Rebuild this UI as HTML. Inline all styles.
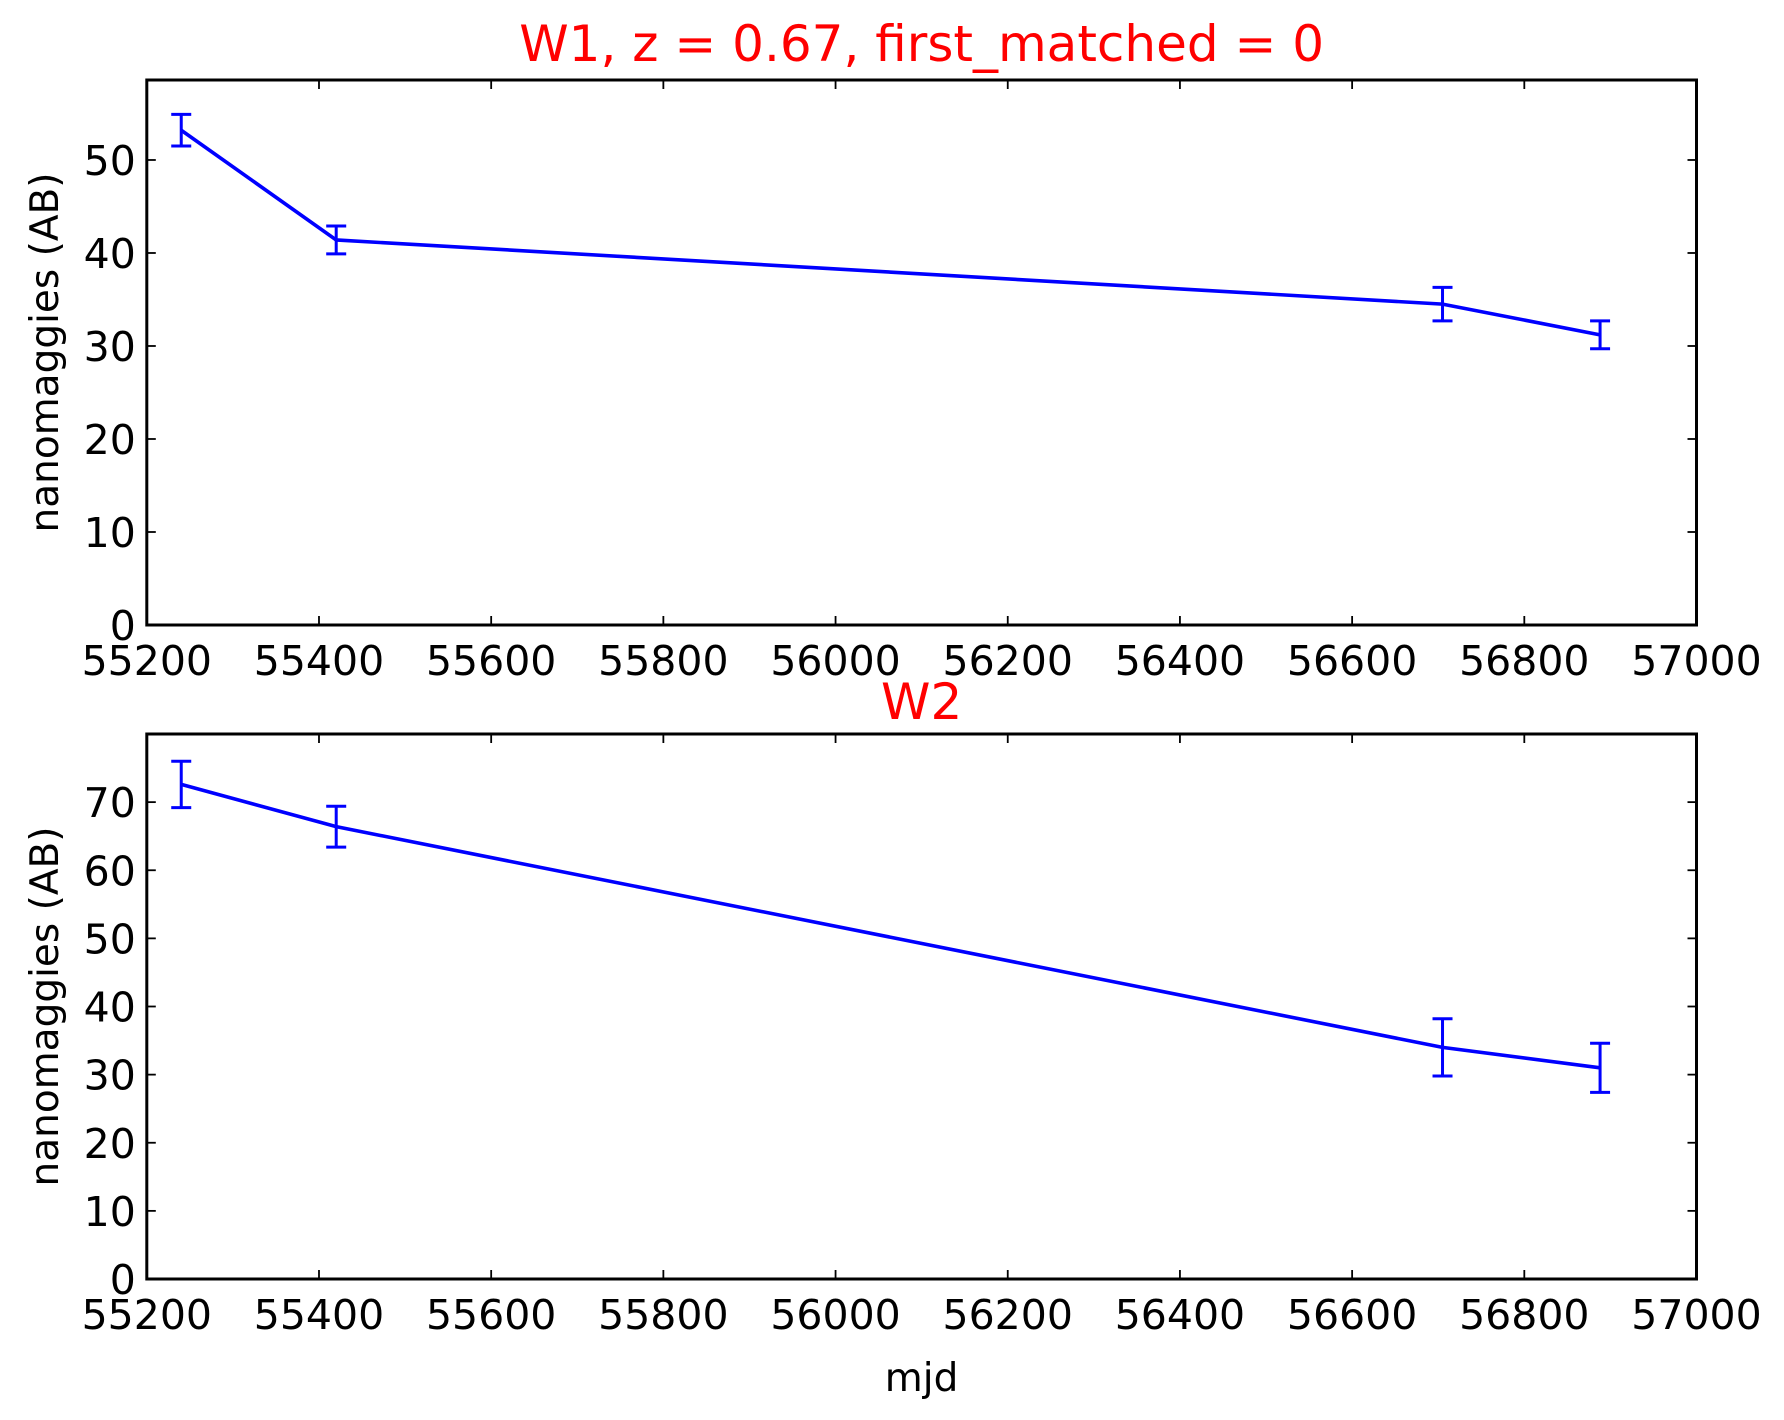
<!DOCTYPE html>
<html><head><meta charset="utf-8"><style>
html,body{margin:0;padding:0;background:#fff;}
svg{display:block;font-family:"DejaVu Sans","Liberation Sans",sans-serif;}
</style></head><body>
<svg id="chart" width="1784" height="1420" viewBox="0 0 1784 1420"></svg>
<script>
const xTicks = [55200,55400,55600,55800,56000,56200,56400,56600,56800,57000];
const w1Mjd = [55240,55420,56705,56888];
const w1Flux = [53.2,41.4,34.5,31.2];
const w1Err = [1.7,1.5,1.8,1.5];
const w1YTicks = [0,10,20,30,40,50];
const w2Mjd = [55240,55420,56705,56888];
const w2Flux = [72.6,66.4,34.0,31.0];
const w2Err = [3.4,3.0,4.2,3.6];
const w2YTicks = [0,10,20,30,40,50,60,70];

const svg = document.getElementById('chart');
const NS = 'http://www.w3.org/2000/svg';
function mk(tag, attrs, parent){const e=document.createElementNS(NS,tag);for(const k in attrs)e.setAttribute(k,attrs[k]);(parent||svg).appendChild(e);return e;}

function panel(opt){
  const g = mk('g',{});
  
  
  const L=146.8,R=1696.5,T=opt.top,B=opt.bottom;
  const xs=v=>L+(v-55200)/(57000-55200)*(R-L);
  const ys=v=>B-(v-0)/(opt.ymax-0)*(B-T);
  const tl=9;
  xTicks.forEach(t=>{
    const x=xs(t);
    mk('line',{x1:x,x2:x,y1:B,y2:B-tl,stroke:'#000','stroke-width':1.8},g);
    mk('line',{x1:x,x2:x,y1:T,y2:T+tl,stroke:'#000','stroke-width':1.8},g);
    const tx=mk('text',{x:x,y:B+50,'font-size':41,'text-anchor':'middle',fill:'#000'},g);
    tx.textContent=t;
    
    
  });
  opt.yticks.forEach(t=>{
    const y=ys(t);
    mk('line',{x1:L,x2:L+tl,y1:y,y2:y,stroke:'#000','stroke-width':1.8},g);
    mk('line',{x1:R,x2:R-tl,y1:y,y2:y,stroke:'#000','stroke-width':1.8},g);
    const tx=mk('text',{x:L-11,y:y+15,'font-size':41,'text-anchor':'end',fill:'#000'},g);
    tx.textContent=t;
    
    
  });
  const pts=opt.mjd.map((m,i)=>xs(m)+','+ys(opt.flux[i])).join(' ');
  const line=mk('polyline',{points:pts,fill:'none',stroke:'#0000ff','stroke-width':3.6},g);
  
  
  opt.mjd.forEach((m,i)=>{
    const x=xs(m),y1=ys(opt.flux[i]-opt.err[i]),y2=ys(opt.flux[i]+opt.err[i]);
    const eb=mk('path',{d:`M${x},${y1}V${y2}M${x-10},${y1}H${x+10}M${x-10},${y2}H${x+10}`,stroke:'#0000ff','stroke-width':3,fill:'none'},g);
    
    
  });
  const frame=mk('rect',{x:L,y:T,width:R-L,height:B-T,fill:'none',stroke:'#000','stroke-width':3},g);
  
  
  const yl=mk('text',{x:0,y:0,'font-size':39,'text-anchor':'middle',fill:'#000',transform:`translate(58,${(T+B)/2}) rotate(-90)`},g);
  yl.textContent='nanomaggies (AB)';
  
  
  const ti=mk('text',{x:(L+R)/2,y:opt.titleY,'font-size':50,'text-anchor':'middle',fill:'#ff0000'},g);
  ti.textContent=opt.title;
  
  
}
panel({name:'w1-panel',top:80,bottom:625,ymax:58.6,yticks:w1YTicks,mjd:w1Mjd,flux:w1Flux,err:w1Err,title:'W1, z = 0.67, first_matched = 0',titleY:61});
panel({name:'w2-panel',top:734,bottom:1279,ymax:80,yticks:w2YTicks,mjd:w2Mjd,flux:w2Flux,err:w2Err,title:'W2',titleY:719});
const xl=mk('text',{x:921.6,y:1391,'font-size':39,'text-anchor':'middle',fill:'#000'});
xl.textContent='mjd';


</script>
</body></html>
